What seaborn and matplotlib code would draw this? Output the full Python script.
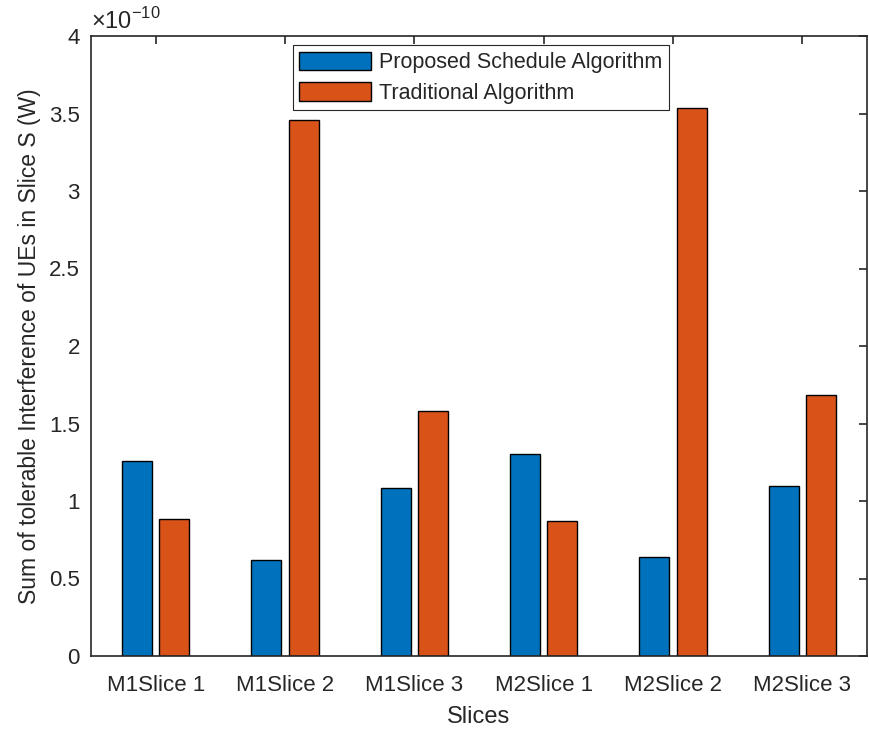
import matplotlib
matplotlib.use("Agg")
import matplotlib.pyplot as plt
import seaborn as sns
import pandas as pd
from matplotlib.ticker import FuncFormatter, MultipleLocator

categories = ["M1Slice 1", "M1Slice 2", "M1Slice 3", "M2Slice 1", "M2Slice 2", "M2Slice 3"]
series_names = ["Proposed Schedule Algorithm", "Traditional Algorithm"]
proposed = [1.26e-10, 0.617e-10, 1.087e-10, 1.303e-10, 0.637e-10, 1.10e-10]
traditional = [0.887e-10, 3.456e-10, 1.582e-10, 0.868e-10, 3.535e-10, 1.681e-10]
colors = ["#0072BD", "#D95319"]

df = pd.DataFrame({
    "Slice": categories * 2,
    "Algorithm": [series_names[0]] * len(categories) + [series_names[1]] * len(categories),
    "Value": proposed + traditional,
})

sns.set_style("white")
plt.rcParams["font.family"] = ["Liberation Sans", "DejaVu Sans"]
plt.rcParams["mathtext.fontset"] = "custom"
plt.rcParams["mathtext.rm"] = "Liberation Sans"

fig = plt.figure(figsize=(8.69, 7.31), dpi=100)
ax = fig.add_axes([91 / 869, 75 / 731, 776 / 869, 620 / 731])

sns.barplot(data=df, x="Slice", y="Value", hue="Algorithm", order=categories,
            hue_order=series_names, palette=colors, width=0.58, gap=0.2,
            edgecolor="black", linewidth=1.0, saturation=1, ax=ax)

ax.set_xlim(-0.5, 5.5)
ax.set_ylim(0, 4e-10)
ax.yaxis.set_major_locator(MultipleLocator(0.5e-10))
ax.yaxis.set_major_formatter(FuncFormatter(lambda v, p: f"{v / 1e-10:g}"))
ax.yaxis.offsetText.set_visible(False)
ax.xaxis.offsetText.set_visible(False)

for s in ax.spines.values():
    s.set_visible(True)
    s.set_color("#262626")
    s.set_linewidth(1.2)
ax.tick_params(direction="in", top=True, right=True, length=6, width=1.2,
               colors="#262626", labelsize=16, pad=8)
ax.tick_params(axis="x", pad=14)
for lbl in ax.get_xticklabels() + ax.get_yticklabels():
    lbl.set_color("#262626")

ax.set_xlabel("Slices", fontsize=17, color="#262626", labelpad=7)
ax.set_ylabel("Sum of tolerable Interference of UEs in Slice S (W)", fontsize=16.5,
              color="#262626", labelpad=6)

ax.text(0.0, 1.004, r"$\times$10$^{-10}$", transform=ax.transAxes, fontsize=17,
        color="#262626", ha="left", va="bottom")

leg = ax.legend(loc="upper left", bbox_to_anchor=(202 / 776, 0.985), borderaxespad=0,
                fontsize=15.5, frameon=True, fancybox=False, edgecolor="#262626",
                framealpha=1, handlelength=3.3, handleheight=0.95, borderpad=0.3,
                labelspacing=0.4, handletextpad=0.4, title=None)
leg.get_frame().set_linewidth(0.8)

fig.savefig("out.png", dpi=100)
